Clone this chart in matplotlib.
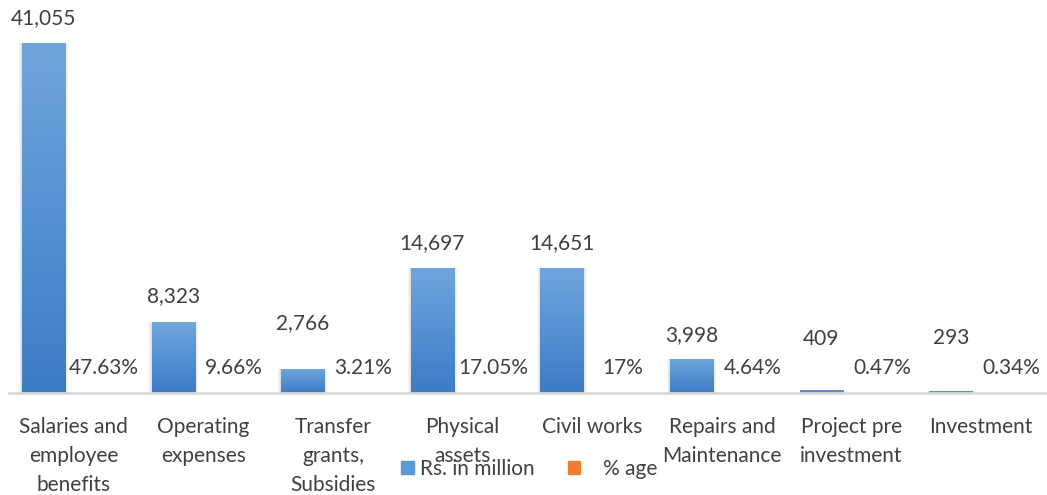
import matplotlib.pyplot as plt
import numpy as np
from matplotlib.patches import Patch

plt.rcParams['font.family'] = ['Lato', 'DejaVu Sans']

# Dépenses par catégorie
categories = [
    "Salaries and\nemployee\nbenefits",
    "Operating\nexpenses",
    "Transfer\ngrants,\nSubsidies",
    "Physical\nassets",
    "Civil works",
    "Repairs and\nMaintenance",
    "Project pre\ninvestment",
    "Investment",
]
montant = [41055, 8323, 2766, 14697, 14651, 3998, 409, 293]
pourcentage = [47.63, 9.66, 3.21, 17.05, 17, 4.64, 0.47, 0.34]

texte = "#404040"
bleu_haut = np.array([0x70, 0xa6, 0xdd]) / 255
bleu_bas = np.array([0x3c, 0x7b, 0xc6]) / 255
orange = "#ed7d31"
taille = 15
# décalage vertical (points) des étiquettes des montants, remontées pour les petites barres
decal_etiq = [18, 18.5, 33, 18, 18, 17.5, 36.5, 38]

fig = plt.figure(figsize=(10.47, 4.95), dpi=100)
ax = fig.add_axes([9 / 1047, 1 - 393 / 495, 1037 / 1047, 383.6 / 495])

x = np.arange(len(categories))
largeur = 0.332
decal = 0.234

barres = ax.bar(x - decal, montant, largeur, color=bleu_bas, zorder=2)
barres_pct = ax.bar(x + decal, pourcentage, largeur, color=orange, zorder=2)

ax.set_xlim(-0.5, len(categories) - 0.5)
ax.set_ylim(0, 45000)

# dégradé vertical + ombre légère sur les côtés de chaque barre
grad = np.linspace(0, 1, 256).reshape(-1, 1, 1)
couleurs = bleu_bas + (bleu_haut - bleu_bas) * grad
for b in barres:
    x0, w, h = b.get_x(), b.get_width(), b.get_height()
    if h > 1000:
        for k, a in zip([0.025, 0.015, 0.008], [0.04, 0.04, 0.05]):
            ax.add_patch(plt.Rectangle((x0 - k, 0), w + 2 * k, h + k * 300,
                                       color="black", alpha=a, lw=0, zorder=1))
    im = ax.imshow(couleurs, extent=[x0, x0 + w, 0, h], origin="lower",
                   aspect="auto", zorder=3)
    im.set_clip_path(b)

# étiquettes de valeurs
for xi, v, d in zip(x, montant, decal_etiq):
    ax.annotate(f"{v:,}", (xi - decal, v), xytext=(0, d),
                textcoords="offset points", ha="center", va="center",
                fontsize=taille, color=texte)
for xi, v in zip(x, pourcentage):
    ax.annotate(f"{v:g}%", (xi + decal, v), xytext=(0, 18),
                textcoords="offset points", ha="center", va="center",
                fontsize=taille, color=texte)

ax.set_xticks(x)
ax.set_xticklabels(categories, fontsize=taille, color=texte, linespacing=1.56)
ax.tick_params(axis="x", length=0, pad=17)
ax.set_yticks([])
for s in ["top", "right", "left"]:
    ax.spines[s].set_visible(False)
ax.spines["bottom"].set_color("#d9d9d9")
ax.spines["bottom"].set_linewidth(2)
ax.spines["bottom"].set_zorder(4)

poignees = [Patch(color="#5b9bd5"), Patch(color=orange)]
fig.legend(poignees, ["Rs. in million", "   % age"], loc="center",
           bbox_to_anchor=(529 / 1047, 1 - 469 / 495), ncol=2, frameon=False,
           fontsize=taille, labelcolor=texte, handlelength=0.6, handleheight=0.6,
           handletextpad=0.3, columnspacing=1.6)

fig.savefig("out.png", dpi=100)
